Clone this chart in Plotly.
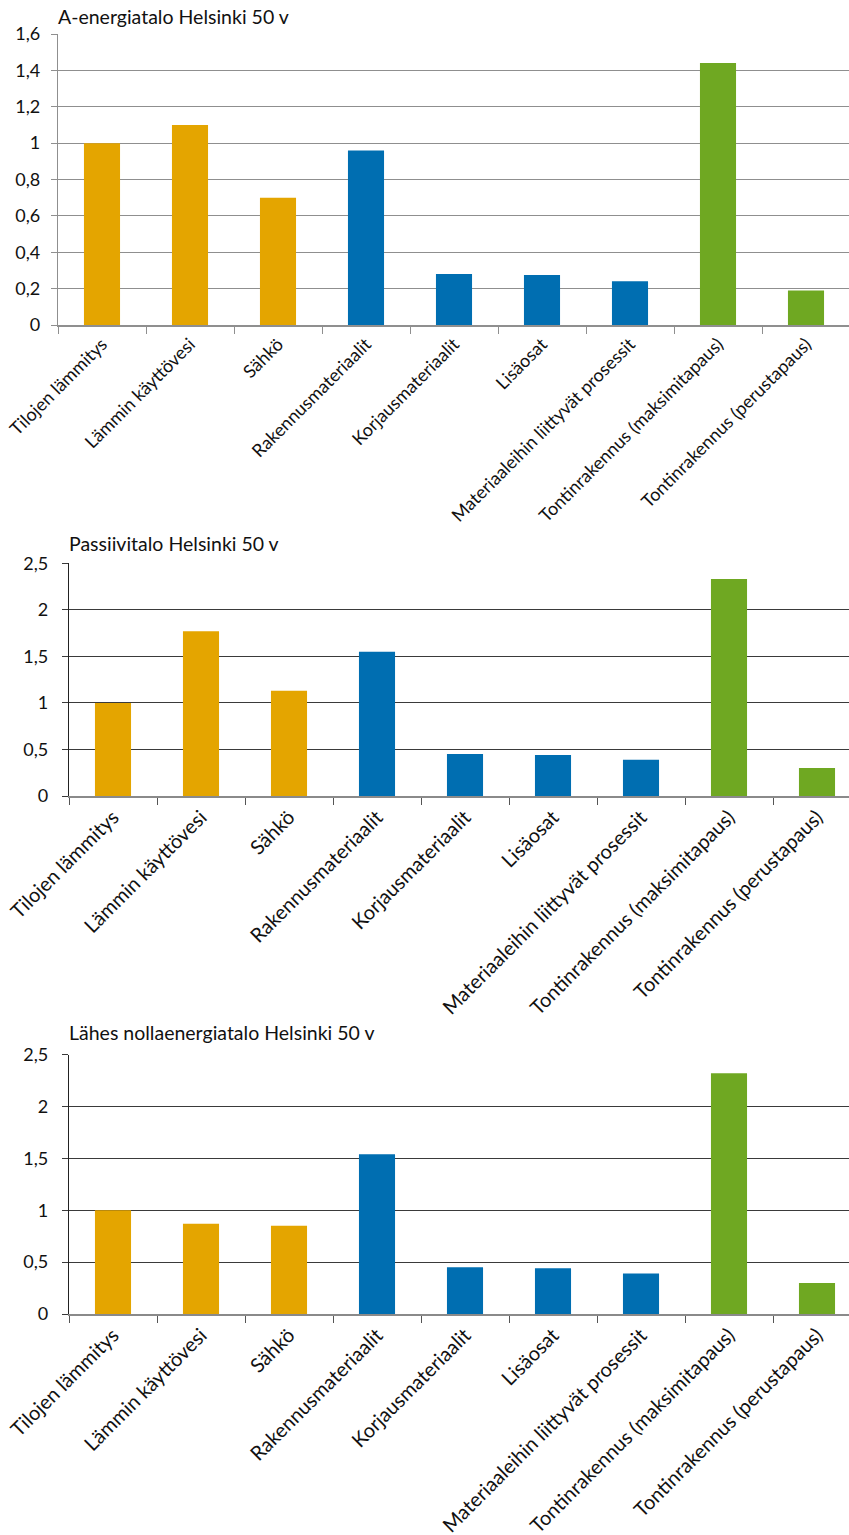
import plotly.graph_objects as go

# Categories shared by all three charts
categories = [
    "Tilojen lämmitys",
    "Lämmin käyttövesi",
    "Sähkö",
    "Rakennusmateriaalit",
    "Korjausmateriaalit",
    "Lisäosat",
    "Materiaaleihin liittyvät prosessit",
    "Tontinrakennus (maksimitapaus)",
    "Tontinrakennus (perustapaus)",
]

# Values per building type
a_energiatalo = [1.0, 1.10, 0.70, 0.96, 0.28, 0.275, 0.24, 1.44, 0.19]
passiivitalo = [1.0, 1.77, 1.13, 1.55, 0.45, 0.44, 0.39, 2.33, 0.30]
nollaenergiatalo = [1.0, 0.87, 0.85, 1.54, 0.45, 0.44, 0.39, 2.32, 0.30]

# Category groups: energy use, materials, site construction
groups = ["energia", "energia", "energia",
          "materiaali", "materiaali", "materiaali", "materiaali",
          "tontti", "tontti"]
group_colors = {"energia": "#E4A500", "materiaali": "#006EB1", "tontti": "#6FA822"}

titles = [
    "A-energiatalo Helsinki 50 v",
    "Passiivitalo Helsinki 50 v",
    "Lähes nollaenergiatalo Helsinki 50 v",
]

# Y tick labels
yticks_a = [0, 0.2, 0.4, 0.6, 0.8, 1.0, 1.2, 1.4, 1.6]
yticktext_a = ["0", "0,2", "0,4", "0,6", "0,8", "1", "1,2", "1,4", "1,6"]
yticks_b = [0, 0.5, 1.0, 1.5, 2.0, 2.5]
yticktext_b = ["0", "0,5", "1", "1,5", "2", "2,5"]

W, H = 849, 1535
FONT = "Lato, 'Open Sans', sans-serif"

bar_colors = [group_colors[g] for g in groups]

fig = go.Figure()

# panel settings: values, plot left/top/bottom (px), grid colour, label size, y ticks, y max,
# tick label standoff, title centre (px)
panels = [
    (a_energiatalo, 58, 34, 325, "#8f8f8f", 18, yticks_a, yticktext_a, 1.6, 7, 17),
    (passiivitalo, 69, 563.3, 796, "#3a3a3a", 20, yticks_b, yticktext_b, 2.5, 10, 543),
    (nollaenergiatalo, 69, 1054.7, 1314, "#3a3a3a", 20, yticks_b, yticktext_b, 2.5, 10, 1032),
]

CAT_PX = 88  # width of one category in pixels

layout_axes = {}
annotations = []
for i, (vals, left, top, bottom, gcol, lsize, yt, ytt, ymax, standoff, title_y) in enumerate(panels):
    n = i + 1
    xname = "x" if n == 1 else f"x{n}"
    yname = "y" if n == 1 else f"y{n}"
    fig.add_trace(go.Bar(
        x=categories, y=vals,
        marker=dict(color=bar_colors, line=dict(width=0)),
        width=0.41,
        xaxis=xname, yaxis=yname,
        showlegend=False,
        hoverinfo="x+y",
    ))
    span = (W - left) / CAT_PX
    xkey = "xaxis" if n == 1 else f"xaxis{n}"
    ykey = "yaxis" if n == 1 else f"yaxis{n}"
    axis_col = "#8f8f8f" if n == 1 else "#555555"
    layout_axes[xkey] = dict(
        domain=[left / W, 1],
        anchor=yname,
        type="category",
        range=[-0.5, -0.5 + span],
        tickson="boundaries",
        ticks="outside",
        ticklen=7,
        tickcolor=axis_col,
        showline=True,
        linecolor=axis_col if n == 1 else "#8a8a8a",
        linewidth=1.5,
        showgrid=False,
        tickangle=-45,
        tickfont=dict(family=FONT, size=lsize, color="#111111"),
        automargin=False,
        fixedrange=True,
    )
    layout_axes[ykey] = dict(
        domain=[1 - bottom / H, 1 - top / H],
        anchor=xname,
        range=[0, ymax],
        tickvals=yt,
        ticktext=ytt,
        ticks="outside",
        ticklen=6,
        tickcolor=gcol,
        ticklabelstandoff=standoff,
        showline=True,
        linecolor=gcol if n == 1 else "#222222",
        linewidth=1.2,
        showgrid=True,
        gridcolor=gcol,
        gridwidth=1.2,
        zeroline=False,
        tickfont=dict(family=FONT, size=18, color="#111111"),
        automargin=False,
        fixedrange=True,
    )
    annotations.append(dict(
        text=titles[i],
        xref="paper", yref="paper",
        x=(left - 2) / W, y=1 - title_y / H,
        xanchor="left", yanchor="middle",
        showarrow=False,
        font=dict(family=FONT, size=19.5, color="#111111"),
    ))

fig.update_layout(
    width=W, height=H,
    margin=dict(l=0, r=0, t=0, b=0),
    paper_bgcolor="white",
    plot_bgcolor="white",
    bargap=0.59,
    annotations=annotations,
    **layout_axes,
)

fig.write_html("out.html", config={"displayModeBar": False})
